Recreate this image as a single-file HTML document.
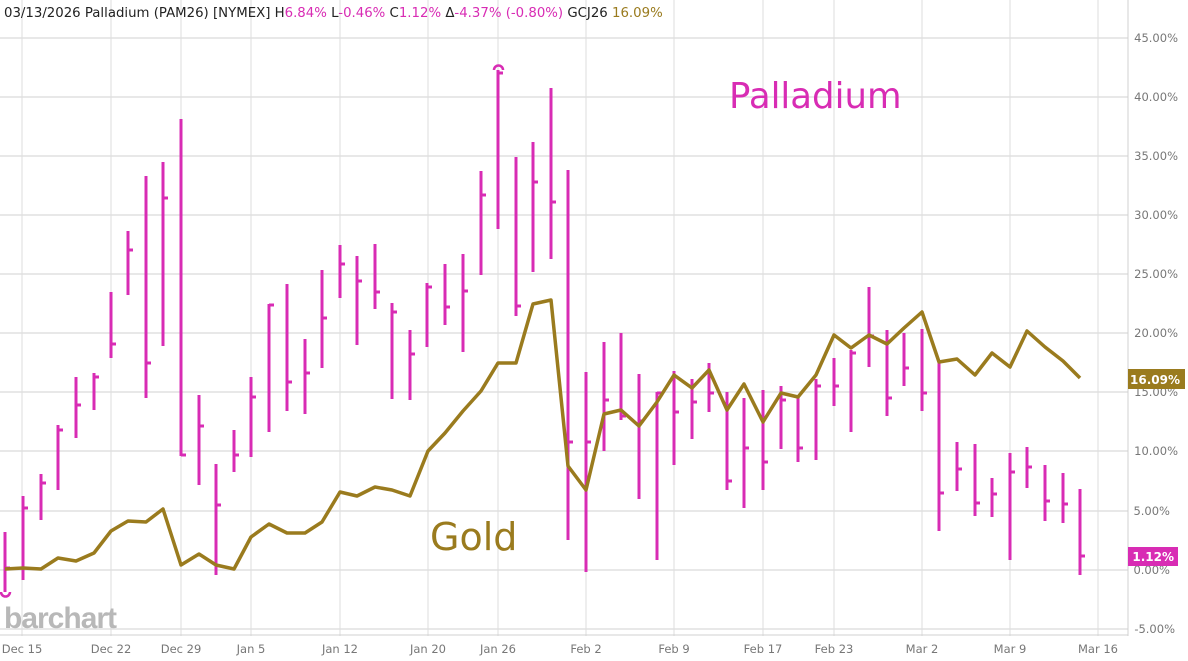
<!DOCTYPE html>
<html><head><meta charset="utf-8"><style>
body{margin:0;background:#fff;}
svg{display:block;font-family:"DejaVu Sans","Liberation Sans",sans-serif;}
</style></head><body>
<svg width="1188" height="661" viewBox="0 0 1188 661" xmlns="http://www.w3.org/2000/svg">
<g stroke="#dcdcdc" stroke-width="1">
<line x1="22" y1="0" x2="22" y2="636"/><line x1="111" y1="0" x2="111" y2="636"/><line x1="181" y1="0" x2="181" y2="636"/><line x1="251" y1="0" x2="251" y2="636"/><line x1="340" y1="0" x2="340" y2="636"/><line x1="428" y1="0" x2="428" y2="636"/><line x1="498" y1="0" x2="498" y2="636"/><line x1="586" y1="0" x2="586" y2="636"/><line x1="674" y1="0" x2="674" y2="636"/><line x1="763" y1="0" x2="763" y2="636"/><line x1="834" y1="0" x2="834" y2="636"/><line x1="922" y1="0" x2="922" y2="636"/><line x1="1010" y1="0" x2="1010" y2="636"/><line x1="1098" y1="0" x2="1098" y2="636"/>
</g>
<g stroke="#e0e0e0" stroke-width="1.5">
<line x1="0" y1="38" x2="1128" y2="38"/><line x1="0" y1="97" x2="1128" y2="97"/><line x1="0" y1="156" x2="1128" y2="156"/><line x1="0" y1="215" x2="1128" y2="215"/><line x1="0" y1="274" x2="1128" y2="274"/><line x1="0" y1="333" x2="1128" y2="333"/><line x1="0" y1="392" x2="1128" y2="392"/><line x1="0" y1="451" x2="1128" y2="451"/><line x1="0" y1="511" x2="1128" y2="511"/><line x1="0" y1="570" x2="1128" y2="570"/><line x1="0" y1="629" x2="1128" y2="629"/>
</g>
<line x1="0" y1="635" x2="1128" y2="635" stroke="#d0d0d0"/>
<line x1="1128" y1="0" x2="1128" y2="636" stroke="#d0d0d0"/>
<g font-size="11.5" fill="#777" text-anchor="end">
<text x="1178" y="42">45.00%</text><text x="1178" y="101">40.00%</text><text x="1178" y="160">35.00%</text><text x="1178" y="219">30.00%</text><text x="1178" y="278">25.00%</text><text x="1178" y="337">20.00%</text><text x="1178" y="396">15.00%</text><text x="1178" y="455">10.00%</text><text x="1170" y="515">5.00%</text><text x="1170" y="574">0.00%</text><text x="1175" y="633">-5.00%</text>
</g>
<g font-size="11.5" fill="#777" text-anchor="middle">
<text x="22" y="653">Dec 15</text><text x="111" y="653">Dec 22</text><text x="181" y="653">Dec 29</text><text x="251" y="653">Jan 5</text><text x="340" y="653">Jan 12</text><text x="428" y="653">Jan 20</text><text x="498" y="653">Jan 26</text><text x="586" y="653">Feb 2</text><text x="674" y="653">Feb 9</text><text x="763" y="653">Feb 17</text><text x="834" y="653">Feb 23</text><text x="922" y="653">Mar 2</text><text x="1010" y="653">Mar 9</text><text x="1098" y="653">Mar 16</text>
</g>
<text x="4" y="628" font-family="Liberation Sans,sans-serif" font-weight="bold" font-size="30" fill="#b8b8b8" letter-spacing="-1">barchart</text>
<g stroke="#d82cb4" stroke-width="3" fill="none">
<path d="M5 532V592M5 568h5 M23 496V580M23 508h5 M41 474V520M41 483h5 M58 425V490M58 430h5 M76 377V438M76 405h5 M94 373V410M94 377h5 M111 292V358M111 344h5 M128 231V295M128 250h5 M146 176V398M146 363h5 M163 162V346M163 198h5 M181 119V456M181 455h5 M199 395V485M199 426h5 M216 464V575M216 505h5 M234 430V472M234 455h5 M251 377V457M251 397h5 M269 304V432M269 305h5 M287 284V411M287 382h5 M305 339V414M305 373h5 M322 270V368M322 318h5 M340 245V298M340 264h5 M357 256V345M357 281h5 M375 244V309M375 292h5 M392 303V399M392 312h5 M410 330V400M410 354h5 M427 283V347M427 287h5 M445 264V325M445 307h5 M463 254V352M463 291h5 M481 171V275M481 195h5 M498 70V229M498 73h5 M516 157V316M516 306h5 M533 142V272M533 182h5 M551 88V259M551 202h5 M568 170V540M568 442h5 M586 372V572M586 442h5 M604 342V451M604 400h5 M621 333V420M621 416h5 M639 374V499M639 421h5 M657 392V560M657 393h5 M674 371V465M674 412h5 M692 379V439M692 402h5 M709 363V412M709 393h5 M727 392V490M727 481h5 M744 398V508M744 448h5 M763 390V490M763 462h5 M781 386V449M781 400h5 M798 397V462M798 448h5 M816 379V460M816 386h5 M834 358V406M834 386h5 M851 350V432M851 353h5 M869 287V367M869 336h5 M887 330V416M887 398h5 M904 333V386M904 368h5 M922 329V411M922 393h5 M939 360V531M939 493h5 M957 442V491M957 469h5 M975 444V516M975 503h5 M992 478V517M992 494h5 M1010 453V560M1010 472h5 M1027 447V488M1027 467h5 M1045 465V521M1045 501h5 M1063 473V523M1063 504h5 M1080 489V575M1080 556h5"/>
<path d="M1 592a4.5 4.5 0 0 0 9 0" stroke-width="2.5"/>
<path d="M494 70a4.5 4.5 0 0 1 9 0" stroke-width="2.5"/>
</g>
<polyline fill="none" stroke="#9a7b1e" stroke-width="3.5" stroke-linejoin="round" points="5,569 23,568 41,569 58,558 76,561 94,553 111,531 128,521 146,522 163,509 181,565 199,554 216,565 234,569 251,537 269,524 287,533 305,533 322,522 340,492 357,496 375,487 392,490 410,496 428,451 445,433 463,411 481,391 498,363 516,363 533,304 551,300 568,466 586,490 604,414 621,410 639,426 657,402 674,375 692,388 709,370 727,410 744,384 763,422 781,393 798,397 816,375 834,335 851,348 869,335 887,344 904,328 922,312 939,362 957,359 975,375 992,353 1010,367 1027,331 1045,347 1063,361 1080,378"/>
<text x="729" y="108" font-size="35.5" fill="#d82cb4">Palladium</text>
<text x="430" y="550" font-size="38" fill="#9a7b1e">Gold</text>
<rect x="1128" y="369" width="57" height="20" fill="#9a7b1e"/>
<text x="1180" y="384" font-size="12" font-weight="bold" fill="#fff" text-anchor="end">16.09%</text>
<rect x="1128" y="547" width="50" height="19" fill="#d82cb4"/>
<text x="1174" y="561" font-size="12" font-weight="bold" fill="#fff" text-anchor="end">1.12%</text>
<text x="4" y="17" font-size="13.3" fill="#222">03/13/2026 Palladium (PAM26) [NYMEX] H<tspan fill="#d82cb4">6.84%</tspan> L<tspan fill="#d82cb4">-0.46%</tspan> C<tspan fill="#d82cb4">1.12%</tspan> Δ<tspan fill="#d82cb4">-4.37% (-0.80%)</tspan> GCJ26 <tspan fill="#9a7b1e">16.09%</tspan></text>
</svg>
</body></html>
